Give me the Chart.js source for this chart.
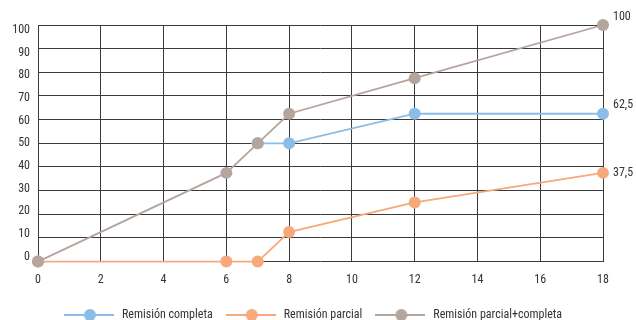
<!DOCTYPE html>
<html>
<head>
<meta charset="utf-8">
<script src="https://cdn.jsdelivr.net/npm/chart.js@4/dist/chart.umd.min.js"></script>
<style>
  html, body { margin: 0; padding: 0; background: #fff; }
  #c { display: block; }
</style>
</head>
<body>
<canvas id="c" width="636" height="320"></canvas>
<script>
// Semanas de seguimiento y porcentaje acumulado de remisión
const seriesNames = ['Remisión completa', 'Remisión parcial', 'Remisión parcial+completa'];

const completaX = [7, 8, 12, 18];
const completaY = [50, 50, 62.5, 62.5];

const parcialX = [0, 6, 7, 8, 12, 18];
const parcialY = [0, 0, 0, 12.5, 25, 37.5];

const totalX = [0, 6, 7, 8, 12, 18];
const totalY = [0, 37.5, 50, 62.5, 77.5, 100];

const xTicks = [0, 2, 4, 6, 8, 10, 12, 14, 16, 18];
const yTicks = [0, 10, 20, 30, 40, 50, 60, 70, 80, 90, 100];

const colors = ['#8cbde6', '#f6a97b', '#b4a59e'];
const FONT = "'Roboto Condensed', 'Liberation Sans', sans-serif";
const TEXT = '#333333';
const GRID = '#3a3a3a';

const pairs = (xs, ys) => xs.map((x, i) => ({ x: x, y: ys[i] }));
const fmt = v => String(v).replace('.', ',');

// Legend swatch: short line with a dot in the middle
function legendSwatch(color) {
  const cv = document.createElement('canvas');
  cv.width = 50; cv.height = 14;
  const g = cv.getContext('2d');
  g.strokeStyle = color; g.lineWidth = 1.8;
  g.beginPath(); g.moveTo(0, 7); g.lineTo(50, 7); g.stroke();
  g.fillStyle = color;
  g.beginPath(); g.arc(26, 7, 6, 0, Math.PI * 2); g.fill();
  return cv;
}

// Value written next to the last point of each series
const endLabels = {
  id: 'endLabels',
  afterDatasetsDraw(chart) {
    const ctx = chart.ctx;
    ctx.save();
    ctx.font = '12px ' + FONT;
    ctx.fillStyle = TEXT;
    ctx.textAlign = 'left';
    ctx.textBaseline = 'middle';
    chart.data.datasets.forEach((ds, i) => {
      const meta = chart.getDatasetMeta(i);
      const pt = meta.data[meta.data.length - 1];
      const v = ds.data[ds.data.length - 1].y;
      ctx.fillText(fmt(v), pt.x + 10, pt.y + (ds.labelDy || 0));
    });
    ctx.restore();
  }
};

function series(idx, data, order, labelDy) {
  return {
    label: seriesNames[idx],
    data: data,
    borderColor: colors[idx],
    backgroundColor: colors[idx],
    pointBackgroundColor: colors[idx],
    pointBorderWidth: 0,
    pointRadius: 6,
    borderWidth: 1.8,
    tension: 0,
    clip: false,
    order: order,
    labelDy: labelDy
  };
}

new Chart(document.getElementById('c'), {
  type: 'line',
  data: {
    datasets: [
      series(0, pairs(completaX, completaY), 1, -9),
      series(1, pairs(parcialX, parcialY), 2, 0),
      series(2, pairs(totalX, totalY), 0, -8)
    ]
  },
  plugins: [endLabels],
  options: {
    responsive: false,
    animation: false,
    devicePixelRatio: 1,
    layout: { padding: { top: 25, right: 12, left: 0, bottom: -11 } },
    plugins: {
      tooltip: { enabled: false },
      legend: {
        position: 'bottom',
        labels: {
          usePointStyle: true,
          pointStyleWidth: 54,
          padding: 11,
          color: TEXT,
          font: { family: FONT, size: 12 },
          generateLabels(chart) {
            return chart.data.datasets.map((ds, i) => ({
              text: ds.label,
              pointStyle: legendSwatch(ds.borderColor),
              fillStyle: ds.borderColor,
              strokeStyle: ds.borderColor,
              lineWidth: 0,
              fontColor: TEXT,
              hidden: false,
              datasetIndex: i
            }));
          }
        }
      }
    },
    scales: {
      x: {
        type: 'linear',
        min: 0, max: 18,
        afterBuildTicks: s => { s.ticks = xTicks.map(v => ({ value: v })); },
        grid: { color: GRID, lineWidth: 1, drawTicks: false },
        border: { display: false },
        ticks: { color: TEXT, padding: 11, font: { family: FONT, size: 12 }, maxRotation: 0 }
      },
      y: {
        type: 'linear',
        position: 'left',
        min: 0, max: 100,
        afterBuildTicks: s => { s.ticks = yTicks.map(v => ({ value: v })); },
        grid: { color: GRID, lineWidth: 1, drawTicks: false },
        border: { display: false },
        ticks: { display: false },
        afterFit: s => { s.width = 0; }
      },
      yl: {
        type: 'linear',
        position: 'left',
        min: -2.2, max: 102.2,
        afterBuildTicks: s => { s.ticks = yTicks.map(v => ({ value: v })); },
        grid: { display: false, drawTicks: false },
        border: { display: false },
        ticks: { color: TEXT, padding: 8, font: { family: FONT, size: 12 } },
        afterFit: s => { s.width = 38; }
      },
      // empty margin on the right, room for the end-of-line values
      yr: {
        type: 'linear',
        position: 'right',
        min: 0, max: 100,
        grid: { display: false, drawTicks: false },
        border: { display: false },
        ticks: { display: false },
        afterFit: s => { s.width = 21; }
      }
    }
  }
});
</script>
</body>
</html>
